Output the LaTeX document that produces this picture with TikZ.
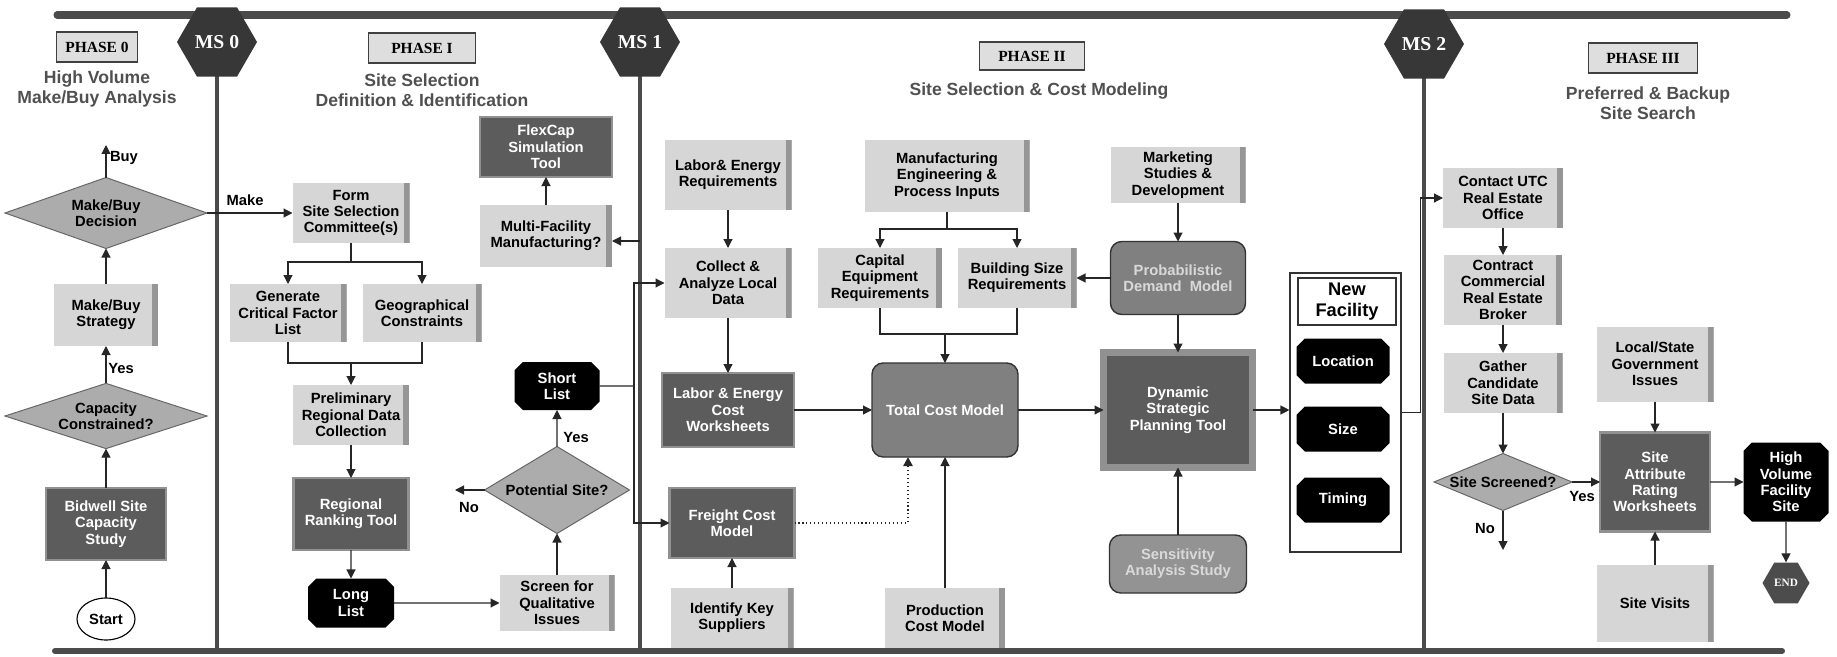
\documentclass[tikz,border=0pt]{standalone}
\usepackage{fontspec}
\setmainfont{Liberation Sans}
\newfontfamily\phaseserif{Liberation Serif}
\usetikzlibrary{positioning, shapes.geometric, shapes.misc, arrows.meta}
\newlength\pxl
\setlength\pxl{0.025cm}
\definecolor{liteg}{RGB}{214,214,214}
\definecolor{edgeg}{RGB}{150,150,150}
\definecolor{darkg}{RGB}{92,92,92}
\definecolor{bevelg}{RGB}{145,145,145}
\definecolor{rndg}{RGB}{128,128,128}
\definecolor{diamg}{RGB}{172,172,172}
\definecolor{mileg}{RGB}{55,55,55}
\definecolor{railg}{RGB}{75,75,75}
\definecolor{titleg}{RGB}{80,80,80}
\definecolor{phaseg}{RGB}{222,222,222}
\newcommand\fcboxfont{\fontsize{10.5}{11.6}\selectfont\bfseries}
\newcommand\fctitlefont{\fontsize{12.5}{14.5}\selectfont\bfseries}
\newcommand\fcphasefont{\phaseserif\fontsize{11}{12}\selectfont\bfseries}
\newcommand\fcmsfont{\phaseserif\fontsize{14}{15}\selectfont\bfseries}
\newcommand\fcnewfont{\fontsize{13}{14.5}\selectfont\bfseries}
\newcommand\fcblock[7]{\node[#1, minimum width=#5*\pxl, minimum height=#6*\pxl] (#2) at (#3,#4) {#7};}
\tikzset{
  fcbase/.style={align=center, font=\fcboxfont, inner sep=0pt, outer sep=0pt},
  litebox/.style={fcbase, rectangle, fill=liteg, path picture={\fill[edgeg] ([xshift=-6*\pxl]path picture bounding box.north east) rectangle (path picture bounding box.south east);}},
  darkbox/.style={fcbase, rectangle, fill=darkg, draw=bevelg, line width=2pt, text=white},
  bigdark/.style={darkbox, line width=4.5pt},
  roundbox/.style={fcbase, rectangle, rounded corners=8pt, fill=rndg, draw=black!80, line width=1pt, text=white},
  decision/.style={fcbase, diamond, aspect=2.5, fill=diamg, draw=black!60, line width=0.7pt},
  tagbox/.style={fcbase, chamfered rectangle, chamfered rectangle xsep=3pt, chamfered rectangle ysep=3pt, fill=black, text=white},
  startnode/.style={fcbase, ellipse, draw, line width=0.8pt, fill=white},
  milestone/.style={regular polygon, regular polygon sides=6, inner sep=0pt, minimum size=80*\pxl, fill=mileg, text=white, font=\fcmsfont},
  phasebox/.style={rectangle, inner sep=0pt, fill=phaseg, draw=black!75, line width=1pt, font=\fcphasefont},
  phasetitle/.style={align=center, font=\fctitlefont, text=titleg, inner sep=0pt},
  framebox/.style={rectangle, draw=black!80, line width=0.8pt, inner sep=0pt},
  lbl/.style={font=\fcboxfont, inner sep=0pt},
  flow/.style={-{Triangle[length=6.4pt,width=6.4pt]}, line width=0.8pt, draw=black!85},
  link/.style={line width=0.8pt, draw=black!85},
  rail/.style={draw=railg, line cap=round},
}
\begin{document}
\begin{tikzpicture}[x=0.025cm, y=-0.025cm]
\useasboundingbox (0,0) rectangle (1837,657);
% rails
\draw[rail, line width=5pt] (57,15) -- (1787,15);
\draw[rail, line width=4.3pt] (55,651) -- (1782,651);
\draw[rail, line width=2.8pt] (217,42) -- (217,651);
\draw[rail, line width=2.8pt] (640,42) -- (640,651);
\draw[rail, line width=2.8pt] (1424,44) -- (1424,651);
\node[milestone] (ms0) at (217,42) {MS 0};
\node[milestone] (ms1) at (640,42) {MS 1};
\node[milestone] (ms2) at (1424,44) {MS 2};
% phase headings
\fcblock{phasebox}{ph0}{97}{47}{81}{30}{PHASE 0}
\fcblock{phasebox}{ph1}{422}{48}{107}{30}{PHASE I}
\fcblock{phasebox}{ph2}{1032}{56}{105}{28}{PHASE II}
\fcblock{phasebox}{ph3}{1643}{58}{109}{30}{PHASE III}
\node[phasetitle] (t0) at (97,89) {High Volume\\Make/Buy Analysis};
\node[phasetitle] (t1) at (422,90) {Site Selection\\Definition \& Identification};
\node[phasetitle] (t2) at (1039,91) {Site Selection \& Cost Modeling};
\node[phasetitle] (t3) at (1648,103) {Preferred \& Backup\\Site Search};
% phase 0
\fcblock{startnode}{start}{106}{619}{58}{42}{Start}
\fcblock{darkbox}{bidwell}{106}{524}{120}{72}{Bidwell Site\\Capacity\\Study}
\fcblock{decision}{capcon}{106}{416}{202}{65}{Capacity\\Constrained?}
\fcblock{litebox}{mbstrat}{106}{315}{104}{62}{Make/Buy\\Strategy}
\fcblock{decision}{mbdec}{106}{213}{202}{71}{Make/Buy\\Decision}
\coordinate (buyend) at (106,145);
\node[lbl] (buy) at (124,158) {Buy};
\node[lbl] (yes0) at (121,368) {Yes};
\node[lbl] (make) at (245,200) {Make};
% phase 1
\fcblock{litebox}{form}{351}{213}{117}{60}{Form\\Site Selection\\Committee(s)}
\fcblock{litebox}{gen}{288}{313}{117}{58}{Generate\\Critical Factor\\List}
\fcblock{litebox}{geo}{422}{313}{119}{58}{Geographical\\Constraints}
\fcblock{litebox}{prelim}{351}{415}{116}{60}{Preliminary\\Regional Data\\Collection}
\fcblock{darkbox}{rank}{351}{514}{115}{72}{Regional\\Ranking Tool}
\fcblock{tagbox}{longl}{351}{603}{86}{49}{Long\\List}
\fcblock{litebox}{screen}{557}{603}{115}{56}{Screen for\\Qualitative\\Issues}
\fcblock{decision}{potsite}{557}{490}{145}{87}{Potential Site?}
\fcblock{tagbox}{shortl}{557}{386}{85}{48}{Short\\List}
\fcblock{litebox}{multi}{546}{236}{132}{62}{Multi-Facility\\Manufacturing?}
\fcblock{darkbox}{flex}{546}{147}{132}{60}{FlexCap\\Simulation\\Tool}
\coordinate (formsplit) at (351,262);
\coordinate (genmerge) at (351,363);
\coordinate (noend) at (455,490);
\coordinate (bus1) at (634,386);
\coordinate (ms1tap) at (640,241);
\node[lbl] (no1) at (469,507) {No};
\node[lbl] (yes1) at (576,437) {Yes};
% phase 2
\fcblock{litebox}{laborreq}{728}{175}{127}{70}{Labor\& Energy\\Requirements}
\fcblock{litebox}{collect}{728}{283}{127}{70}{Collect \&\\Analyze Local\\Data}
\fcblock{darkbox}{laborcost}{728}{410}{132}{74}{Labor \& Energy\\Cost\\Worksheets}
\fcblock{darkbox}{freight}{732}{523}{125}{70}{Freight Cost\\Model}
\fcblock{litebox}{supp}{732}{618}{123}{60}{Identify Key\\Suppliers}
\fcblock{roundbox}{total}{945}{410}{146}{94}{Total Cost Model}
\fcblock{litebox}{prodcost}{945}{618}{120}{60}{Production\\Cost Model}
\fcblock{litebox}{mfg}{947}{176}{165}{72}{Manufacturing\\Engineering \&\\Process Inputs}
\fcblock{litebox}{capeq}{880}{278}{124}{60}{Capital\\Equipment\\Requirements}
\fcblock{litebox}{bldg}{1017}{278}{119}{60}{Building Size\\Requirements}
\fcblock{litebox}{mkt}{1178}{175}{135}{56}{Marketing\\Studies \&\\Development}
\fcblock{roundbox, text=white!85!black}{prob}{1178}{278}{135}{73}{Probabilistic\\Demand\ \ Model}
\fcblock{bigdark}{dyn}{1178}{410}{149}{115}{Dynamic\\Strategic\\Planning Tool}
\fcblock{roundbox, fill=rndg!85!white, text=white!85!black}{sens}{1178}{564}{137}{58}{Sensitivity\\Analysis Study}
\fcblock{framebox}{nfbox}{1345.5}{412.5}{111}{279}{}
\fcblock{framebox, font=\fcnewfont, align=center}{nftitle}{1347}{301.5}{98}{47}{New\\Facility}
\fcblock{tagbox}{loc}{1343}{361}{93}{45}{Location}
\fcblock{tagbox}{size}{1343}{429}{93}{45}{Size}
\fcblock{tagbox}{timing}{1343}{500}{93}{45}{Timing}
\coordinate (mfgsplit) at (947,229);
\coordinate (capmerge) at (945,334);
\coordinate (dotcorner) at (908,523);
% phase 3
\fcblock{litebox}{contact}{1503}{198}{120}{60}{Contact UTC\\Real Estate\\Office}
\fcblock{litebox}{contract}{1503}{290}{118}{70}{Contract\\Commercial\\Real Estate\\Broker}
\fcblock{litebox}{gather}{1503}{383}{119}{60}{Gather\\Candidate\\Site Data}
\fcblock{decision}{screened}{1503}{482}{138}{57}{Site Screened?}
\fcblock{darkbox}{siteattr}{1655}{482}{110}{99}{Site\\Attribute\\Rating\\Worksheets}
\fcblock{litebox}{localgov}{1655}{364}{117}{75}{Local/State\\Government\\Issues}
\fcblock{litebox}{visits}{1655}{603}{117}{77}{Site Visits}
\fcblock{tagbox}{hvfs}{1786}{482}{85}{79}{High\\Volume\\Facility\\Site}
\node[milestone, minimum size=47*\pxl, fill=black!70, font=\phaseserif\fontsize{8}{9}\selectfont\bfseries] (endnode) at (1786,583) {END};
\coordinate (noend3) at (1503,550);
\node[lbl] (no3) at (1485,528) {No};
\node[lbl] (yes3) at (1582,496) {Yes};
% connectors
\draw[flow] (start) -- (bidwell);
\draw[flow] (bidwell) -- (capcon);
\draw[flow] (capcon) -- (mbstrat);
\draw[flow] (mbstrat) -- (mbdec);
\draw[flow] (mbdec) -- (buyend);
\draw[flow] (mbdec.east) -- (form.west);
\draw[link] (form) -- (formsplit);
\draw[flow] (formsplit) -| (gen.north);
\draw[flow] (formsplit) -| (geo.north);
\draw[link] (gen.south) |- (genmerge);
\draw[link] (geo.south) |- (genmerge);
\draw[flow] (genmerge) -- (prelim);
\draw[flow] (prelim) -- (rank);
\draw[flow] (rank) -- (longl);
\draw[flow] (longl) -- (screen);
\draw[flow] (screen) -- (potsite);
\draw[flow] (potsite) -- (noend);
\draw[flow] (potsite) -- (shortl);
\draw[link] (shortl) -- (bus1);
\draw[flow] (bus1) |- (collect.west);
\draw[flow] (bus1) |- (freight.west);
\draw[flow] (ms1tap) -- (multi.east |- ms1tap);
\draw[flow] (multi) -- (flex);
\draw[flow] (laborreq) -- (collect);
\draw[flow] (collect) -- (laborcost);
\draw[flow] (laborcost) -- (total);
\draw[flow] (supp) -- (freight);
\draw[flow, dotted, line width=1.6pt] (freight.east) -- (dotcorner) -- (dotcorner |- total.south);
\draw[flow] (prodcost) -- (total);
\draw[link] (mfg) -- (mfgsplit);
\draw[flow] (mfgsplit) -| (capeq.north);
\draw[flow] (mfgsplit) -| (bldg.north);
\draw[link] (capeq.south) |- (capmerge);
\draw[link] (bldg.south) |- (capmerge);
\draw[flow] (capmerge) -- (total);
\draw[flow] (mkt) -- (prob);
\draw[flow] (prob) -- (bldg);
\draw[flow] (prob) -- (dyn);
\draw[flow] (total) -- (dyn);
\draw[flow] (sens) -- (dyn);
\draw[flow] (dyn) -- (dyn -| nfbox.west);
\draw[flow] (nfbox.east) -- ++(19,0) |- (contact.west);
\draw[flow] (contact) -- (contract);
\draw[flow] (contract) -- (gather);
\draw[flow] (gather) -- (screened);
\draw[flow] (screened) -- (noend3);
\draw[flow] (screened) -- (siteattr);
\draw[flow] (localgov) -- (siteattr);
\draw[flow] (visits) -- (siteattr);
\draw[flow] (siteattr) -- (hvfs);
\draw[flow] (hvfs) -- (endnode);
\end{tikzpicture}
\end{document}
